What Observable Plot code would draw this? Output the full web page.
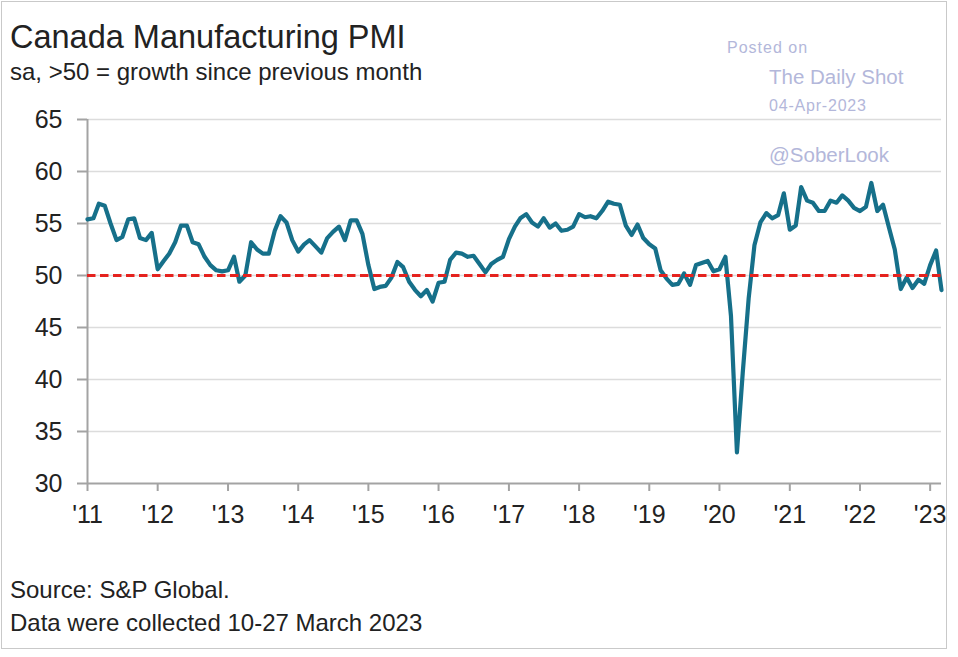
<!DOCTYPE html>
<html>
<head>
<meta charset="utf-8">
<script src="https://cdn.jsdelivr.net/npm/d3@7"></script>
<script src="https://cdn.jsdelivr.net/npm/@observablehq/plot@0.6"></script>
<style>
  html, body { margin: 0; padding: 0; background: #fff; }
  #wrap { position: relative; width: 958px; height: 657px; overflow: hidden; font-family: "Liberation Sans", Arial, sans-serif; color: #222; }
  .frame { position: absolute; left: 1px; top: 1px; width: 946px; height: 648px; border: 1px solid #c9c9c9; box-sizing: border-box; }
  .t { position: absolute; white-space: nowrap; line-height: 1; }
  #chart { position: absolute; left: 0; top: 90px; }
  .wm { color: #b3b7da; }
</style>
</head>
<body>
<div id="wrap">
  <div class="frame"></div>
  <div class="t" style="left:10px; top:21px; font-size:32.5px;">Canada Manufacturing PMI</div>
  <div class="t" style="left:10px; top:60px; font-size:24px;">sa, &gt;50 = growth since previous month</div>
  <div id="chart"></div>
  <div class="t wm" style="left:727px; top:40px; font-size:16px; letter-spacing:1px;">Posted on</div>
  <div class="t wm" style="left:769px; top:67px; font-size:20.5px;">The Daily Shot</div>
  <div class="t wm" style="left:769px; top:98px; font-size:16px; letter-spacing:0.8px;">04-Apr-2023</div>
  <div class="t wm" style="left:769px; top:145px; font-size:20.5px;">@SoberLook</div>
  <div class="t" style="left:10px; top:578px; font-size:24px;">Source: S&amp;P Global.</div>
  <div class="t" style="left:10px; top:611px; font-size:24px;">Data were collected 10-27 March 2023</div>
</div>
<script>
// Monthly PMI values, Jan..Dec for each year
const pmi2011 = [55.4, 55.5, 56.9, 56.7, 55.0, 53.4, 53.7, 55.4, 55.5, 53.6, 53.4, 54.1];
const pmi2012 = [50.6, 51.4, 52.1, 53.2, 54.8, 54.8, 53.2, 53.0, 51.8, 51.0, 50.5, 50.4];
const pmi2013 = [50.5, 51.8, 49.4, 50.0, 53.2, 52.5, 52.1, 52.1, 54.3, 55.7, 55.1, 53.4];
const pmi2014 = [52.3, 53.0, 53.4, 52.8, 52.2, 53.6, 54.2, 54.7, 53.4, 55.3, 55.3, 54.0];
const pmi2015 = [51.0, 48.7, 48.9, 49.0, 49.8, 51.3, 50.8, 49.4, 48.6, 48.0, 48.6, 47.5];
const pmi2016 = [49.3, 49.4, 51.5, 52.2, 52.1, 51.8, 51.9, 51.1, 50.3, 51.1, 51.5, 51.8];
const pmi2017 = [53.5, 54.7, 55.5, 55.9, 55.1, 54.7, 55.5, 54.6, 55.0, 54.3, 54.4, 54.7];
const pmi2018 = [55.9, 55.6, 55.7, 55.5, 56.2, 57.1, 56.9, 56.8, 54.8, 53.9, 54.9, 53.6];
const pmi2019 = [53.0, 52.6, 50.5, 49.7, 49.1, 49.2, 50.2, 49.1, 51.0, 51.2, 51.4, 50.4];
const pmi2020 = [50.6, 51.8, 46.1, 33.0, 40.6, 47.8, 52.9, 55.1, 56.0, 55.5, 55.8, 57.9];
const pmi2021 = [54.4, 54.8, 58.5, 57.2, 57.0, 56.2, 56.2, 57.2, 57.0, 57.7, 57.2, 56.5];
const pmi2022 = [56.2, 56.6, 58.9, 56.2, 56.8, 54.6, 52.5, 48.7, 49.8, 48.8, 49.6, 49.2];
const pmi2023 = [51.0, 52.4, 48.6];

const years = [2011, 2012, 2013, 2014, 2015, 2016, 2017, 2018, 2019, 2020, 2021, 2022, 2023];
const yearLabels = ["'11", "'12", "'13", "'14", "'15", "'16", "'17", "'18", "'19", "'20", "'21", "'22", "'23"];
const yTicks = [30, 35, 40, 45, 50, 55, 60, 65];
const threshold = 50;

const series = [pmi2011, pmi2012, pmi2013, pmi2014, pmi2015, pmi2016, pmi2017, pmi2018, pmi2019, pmi2020, pmi2021, pmi2022, pmi2023];
const data = years.flatMap((yr, k) => series[k].map((v, m) => ({date: new Date(Date.UTC(yr, m, 1)), value: v})));
const tickDates = years.map(yr => new Date(Date.UTC(yr, 0, 1)));

const axisColor = "#a3a3a3";

const chart = Plot.plot({
  width: 958,
  height: 460,
  marginTop: 29,
  marginBottom: 67,
  marginLeft: 87,
  marginRight: 17,
  style: {fontFamily: "'Liberation Sans', Arial, sans-serif", color: "#222", background: "transparent", overflow: "visible"},
  x: {type: "utc", domain: [data[0].date, data[data.length - 1].date]},
  y: {domain: [30, 65]},
  marks: [
    Plot.ruleY(yTicks.filter(d => d > 30), {stroke: "#dcdcdc", strokeWidth: 1.5}),
    Plot.axisY({ticks: yTicks, tickSize: 10, tickPadding: 15, fontSize: 25, stroke: axisColor, strokeWidth: 2, label: null, tickFormat: d => String(d)}),
    Plot.axisX({ticks: tickDates, tickSize: 8, tickPadding: 14, fontSize: 25, stroke: axisColor, strokeWidth: 2, label: null,
      tickFormat: d => yearLabels[years.indexOf(d.getUTCFullYear())]}),
    Plot.ruleX([tickDates[0]], {stroke: axisColor, strokeWidth: 2}),
    Plot.ruleY([30], {stroke: axisColor, strokeWidth: 2}),
    Plot.lineY(data, {x: "date", y: "value", stroke: "#16708a", strokeWidth: 4.2, strokeLinejoin: "round", strokeLinecap: "round"}),
    Plot.ruleY([threshold], {stroke: "#e5221e", strokeWidth: 3, strokeDasharray: "8.5,4.5"})
  ]
});
document.getElementById("chart").appendChild(chart);
</script>
</body>
</html>
